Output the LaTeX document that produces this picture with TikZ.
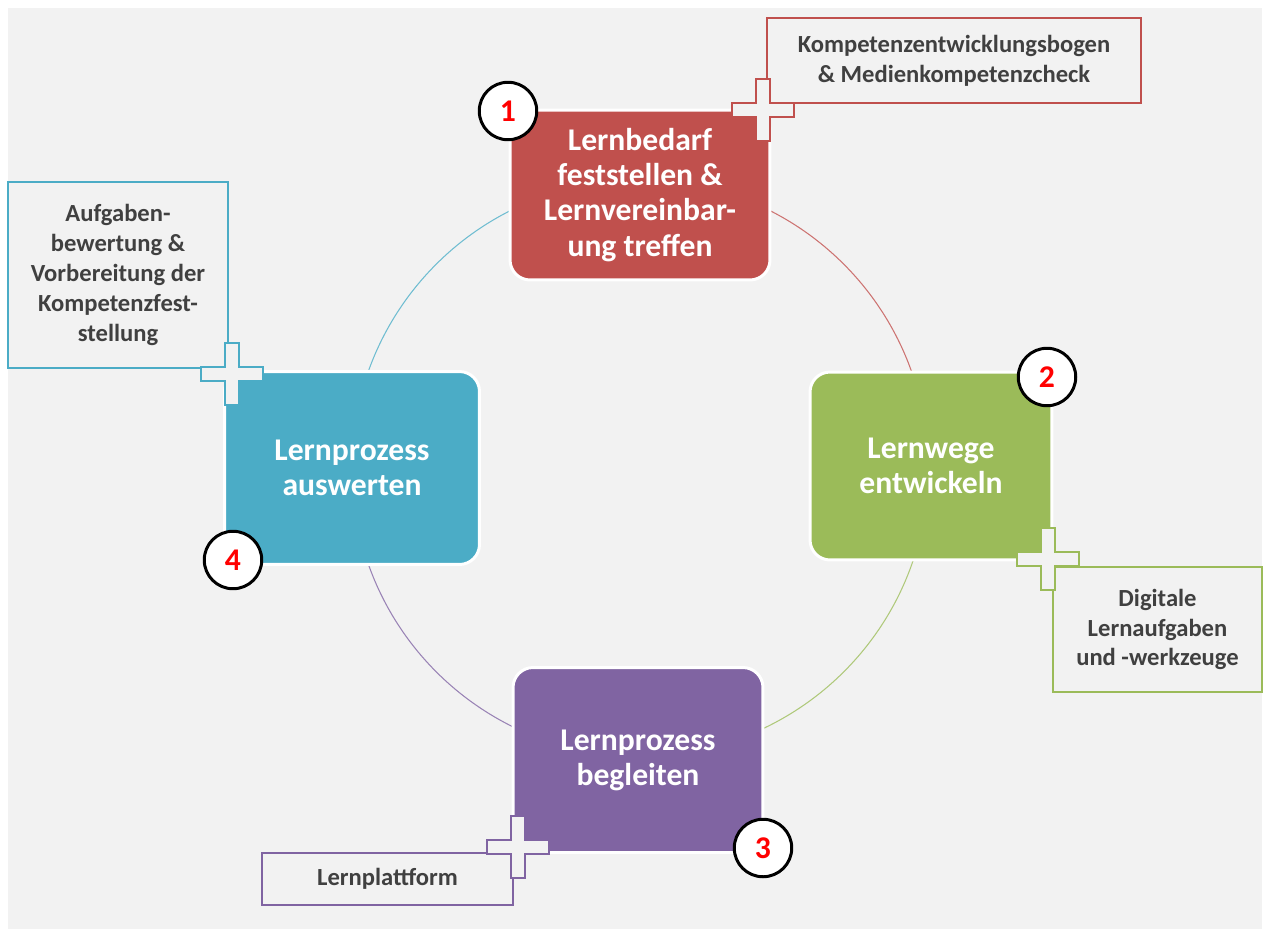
\documentclass[tikz,border=0pt]{standalone}
\usepackage{fontspec}
\setmainfont{Carlito}
\usetikzlibrary{positioning}
\definecolor{bg}{HTML}{F2F2F2}
\definecolor{txt}{HTML}{404040}
\definecolor{lbred}{HTML}{C0504D}
\definecolor{lbgreen}{HTML}{9BBB59}
\definecolor{lbpurple}{HTML}{8064A2}
\definecolor{lbblue}{HTML}{4BACC6}

\begin{document}
\begin{tikzpicture}[x=0.02cm, y=-0.02cm,
    phase/.style={draw=white, line width=1.7pt, rounded corners=0.4cm, text=white, align=center, font=\bfseries\fontsize{18}{20}\selectfont},
    note/.style={draw=#1, fill=bg, line width=1.4pt, text=txt, align=center, font=\bfseries\fontsize{14}{17}\selectfont},
    num/.style={circle, draw=black, line width=1.7pt, fill=white, minimum size=1.15cm, inner sep=0pt, text=red, font=\bfseries\fontsize{18}{20}\selectfont},
    plusmark/.style={draw=#1, fill=bg, line width=1.4pt},
    arcline/.style={draw=#1!80, line width=0.6pt}
  ]
    \useasboundingbox (0,0) rectangle (1268,937);
    \fill[bg] (8,8) rectangle (1262,929);

    % cycle
    \node[circle, minimum size=11.52cm, inner sep=0pt] (ring) at (640,468) {};
    \draw[arcline=lbred]    (ring.north) arc[start angle=-90, end angle=0, radius=288];
    \draw[arcline=lbgreen]  (ring.east)  arc[start angle=0, end angle=90, radius=288];
    \draw[arcline=lbpurple] (ring.south) arc[start angle=90, end angle=180, radius=288];
    \draw[arcline=lbblue]   (ring.west)  arc[start angle=180, end angle=270, radius=288];

    % notes
    \node[note=lbred, minimum width=7.48cm, minimum height=1.7cm] (k1) at (954,60.5) {Kompetenzentwicklungsbogen\\\& Medienkompetenzcheck};
    \node[note=lbgreen, minimum width=4.18cm, minimum height=2.5cm] (k2) at (1157.5,629.5) {Digitale\\Lernaufgaben\\und -werkzeuge};
    \node[note=lbpurple, minimum width=5.02cm, minimum height=1.04cm] (k3) at (387.5,879) {Lernplattform};
    \node[note=lbblue, minimum width=4.4cm, minimum height=3.72cm] (k4) at (118,275) {Aufgaben-\\bewertung \&\\Vorbereitung der\\Kompetenzfest-\\stellung};

    % phases
    \node[phase, fill=lbred, minimum width=5.2cm, minimum height=3.4cm] (b1) at (640,195) {Lernbedarf\\feststellen \&\\Lernvereinbar-\\ung treffen};
    \node[phase, fill=lbgreen, minimum width=4.84cm, minimum height=3.76cm] (b2) at (931,466) {Lernwege\\entwickeln};
    \node[phase, fill=lbpurple, minimum width=5.0cm, minimum height=3.7cm] (b3) at (638,760) {Lernprozess\\begleiten};
    \node[phase, fill=lbblue, minimum width=5.1cm, minimum height=3.86cm] (b4) at (352,468) {Lernprozess\\auswerten};

    \foreach \x/\y/\c in {763/110/lbred, 1048/559/lbgreen, 518/847/lbpurple, 232/374/lbblue}
      \draw[plusmark=\c] (\x,\y) ++(-7,-31) -- ++(14,0) -- ++(0,24) -- ++(24,0) -- ++(0,14) -- ++(-24,0) -- ++(0,24) -- ++(-14,0) -- ++(0,-24) -- ++(-24,0) -- ++(0,-14) -- ++(24,0) -- cycle;

    \node[num] (n1) at (508,111) {1};
    \node[num] (n2) at (1047,377) {2};
    \node[num] (n3) at (763,848) {3};
    \node[num] (n4) at (233,560) {4};
  \end{tikzpicture}
\end{document}
